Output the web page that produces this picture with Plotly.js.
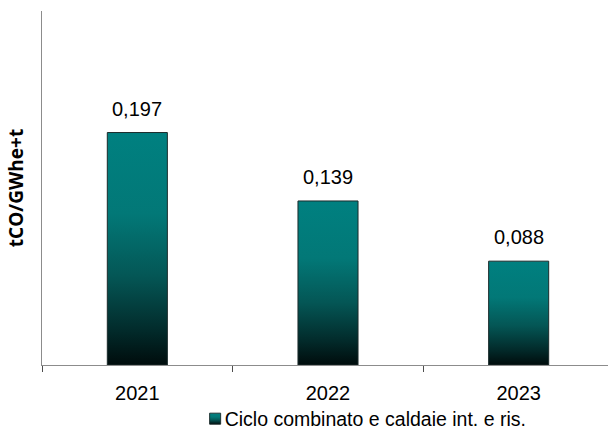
<!DOCTYPE html>
<html>
<head>
<meta charset="utf-8">
<script src="https://cdn.plot.ly/plotly-3.0.1.min.js"></script>
<style>
  html, body { margin: 0; padding: 0; background: #fff; }
  #chart { width: 608px; height: 429px; }
</style>
</head>
<body>
<div id="chart"></div>
<script>
// Emission factor by year (tCO per GWh electric + thermal)
const years = ['2021', '2022', '2023'];
const values = [0.197, 0.139, 0.088];
const seriesName = 'Ciclo combinato e caldaie int. e ris.';
const yTitle = 'tCO/GWhe+t';

const font = 'Liberation Sans, Arial, sans-serif';

const trace = {
  type: 'bar',
  x: years,
  y: values,
  name: seriesName,
  width: 0.315,
  marker: { color: '#007f7f', line: { color: '#1b2b2b', width: 1 } },
  hoverinfo: 'skip',
  showlegend: true
};

// value labels above each bar, written with a decimal comma
const labels = values.map((v, i) => ({
  xref: 'x',
  yref: 'y',
  x: i,
  y: v,
  text: v.toFixed(3).replace('.', ','),
  showarrow: false,
  yanchor: 'bottom',
  yshift: 11,
  font: { family: font, size: 20, color: '#000' }
}));

const layout = {
  width: 608,
  height: 429,
  margin: { l: 42, r: 0, t: 11, b: 64 },
  paper_bgcolor: '#fff',
  plot_bgcolor: '#fff',
  showlegend: true,
  xaxis: {
    type: 'category',
    range: [-0.5, 2.4685],
    automargin: false,
    showgrid: false,
    zeroline: false,
    showline: true,
    linecolor: '#8c8c8c',
    linewidth: 1.3,
    ticks: 'outside',
    tickson: 'boundaries',
    ticklen: 6,
    tickcolor: '#4d4d4d',
    ticklabelstandoff: 10,
    tickfont: { family: font, size: 20, color: '#000' },
    fixedrange: true
  },
  yaxis: {
    range: [0, 0.3],
    automargin: false,
    showgrid: false,
    zeroline: false,
    showline: true,
    linecolor: '#8c8c8c',
    linewidth: 1.3,
    showticklabels: false,
    ticks: '',
    title: { text: yTitle, font: { family: 'Open Sans, sans-serif', size: 19, color: '#000', weight: 'bold' }, standoff: 12 },
    fixedrange: true
  },
  legend: {
    orientation: 'h',
    x: 0.252,
    xanchor: 'left',
    yref: 'container',
    y: 0.0233,
    yanchor: 'middle',
    font: { family: font, size: 19.5, color: '#000' },
    bgcolor: 'rgba(0,0,0,0)'
  },
  annotations: labels
};

Plotly.newPlot('chart', [trace], layout, { displayModeBar: false, staticPlot: true }).then(gd => {
  // vertical teal-to-black shading on bars and legend swatch
  const svg = gd.querySelector('.main-svg');
  const ns = 'http://www.w3.org/2000/svg';
  let defs = svg.querySelector('defs');
  if (!defs) { defs = document.createElementNS(ns, 'defs'); svg.insertBefore(defs, svg.firstChild); }
  const grad = document.createElementNS(ns, 'linearGradient');
  grad.setAttribute('id', 'tealShade');
  grad.setAttribute('x1', '0'); grad.setAttribute('y1', '0');
  grad.setAttribute('x2', '0'); grad.setAttribute('y2', '1');
  [['0', '#008080'], ['0.35', '#027877'], ['0.62', '#045655'], ['0.85', '#022b2b'], ['1', '#000c0c']].forEach(([o, c]) => {
    const s = document.createElementNS(ns, 'stop');
    s.setAttribute('offset', o);
    s.setAttribute('stop-color', c);
    grad.appendChild(s);
  });
  defs.appendChild(grad);
  gd.querySelectorAll('.trace.bars .point path').forEach(p => { p.style.fill = 'url(#tealShade)'; });
  // pull the legend swatch up against its text, Excel style
  gd.querySelectorAll('.legend .legendpoints path').forEach(p => {
    p.style.fill = 'url(#tealShade)';
    p.setAttribute('transform', 'translate(30.5,0) scale(0.92)');
  });
});
</script>
</body>
</html>
